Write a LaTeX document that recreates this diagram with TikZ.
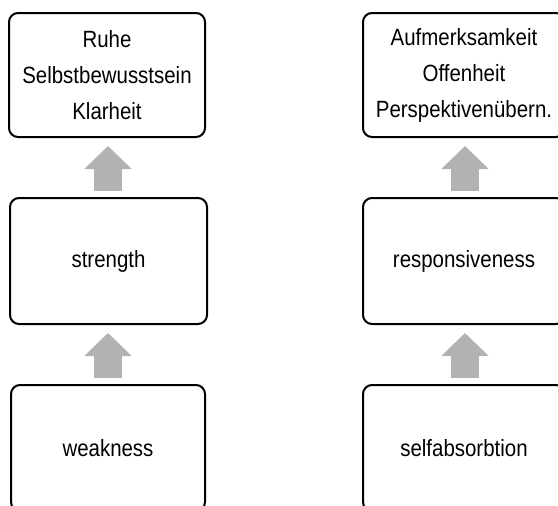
\documentclass[tikz,border=0pt]{standalone}
\usepackage{fontspec}
\setmainfont[FakeStretch=0.87]{Liberation Sans}
\usetikzlibrary{arrows.meta}
\definecolor{arrowgray}{RGB}{178,178,178}
\tikzset{
  box/.style={draw=black, line width=2pt, rounded corners=9pt, fill=white,
    align=center, inner sep=0pt, font=\fontsize{23.5}{36}\selectfont},
  uparrow/.style={draw=arrowgray, line width=28pt,
    -{Triangle[width=46pt,length=23pt]}, shorten <=6pt, shorten >=8pt}
}
\begin{document}
\begin{tikzpicture}[x=1pt,y=-1pt]
\clip (0,0) rectangle (558,506);
\fill[white] (0,0) rectangle (558,506);
% left column
\node[box, minimum width=196pt, minimum height=124pt] (l1) at (107,75) {Ruhe\\Selbstbewusstsein\\Klarheit};
\node[box, minimum width=197pt, minimum height=126pt] (l2) at (108.5,261) {strength};
\node[box, minimum width=194pt, minimum height=126pt] (l3) at (108,448) {weakness};
% right column
\node[box, minimum width=202pt, minimum height=124pt] (r1) at (464,75) {Aufmerksamkeit\\Offenheit\\Perspektivenübern.};
\node[box, minimum width=202pt, minimum height=126pt] (r2) at (464,261) {responsiveness};
\node[box, minimum width=202pt, minimum height=126pt] (r3) at (464,448) {selfabsorbtion};
% arrows
\draw[uparrow] (l2.north -| 108,0) -- (l1.south -| 108,0);
\draw[uparrow] (l3.north -| 108,0) -- (l2.south -| 108,0);
\draw[uparrow] (r2.north -| 465,0) -- (r1.south -| 465,0);
\draw[uparrow] (r3.north -| 465,0) -- (r2.south -| 465,0);
\end{tikzpicture}
\end{document}
